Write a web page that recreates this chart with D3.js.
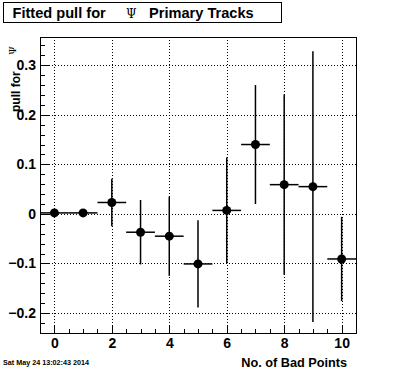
<!DOCTYPE html>
<html>
<head>
<meta charset="utf-8">
<script src="https://cdn.jsdelivr.net/npm/d3@7/dist/d3.min.js"></script>
<style>
  html, body { margin: 0; padding: 0; background: #fff; }
  svg { display: block; }
  text { font-family: "Liberation Sans", Arial, Helvetica, sans-serif; }
</style>
</head>
<body>
<script>
// ---- data ----
const nBadPoints = [0, 1, 2, 3, 4, 5, 6, 7, 8, 9, 10];
const pullValues = [0.002, 0.002, 0.023, -0.037, -0.045, -0.101, 0.007, 0.140, 0.059, 0.055, -0.091];
const pullErrors = [0.002, 0.002, 0.048, 0.065, 0.080, 0.088, 0.107, 0.120, 0.182, 0.273, 0.085];
const xHalfWidth = [0.5, 0.5, 0.5, 0.5, 0.5, 0.5, 0.5, 0.5, 0.5, 0.5, 0.5];
const xTickLabels = [0, 2, 4, 6, 8, 10];
const yTickLabels = [-0.2, -0.1, 0, 0.1, 0.2, 0.3];
const titleText = "Fitted pull for";
const titleSuffix = "Primary Tracks";
const psiSymbol = "\u03A8";
const xAxisTitle = "No. of Bad Points";
const yAxisTitle = "pull for";
const dateStamp = "Sat May 24 13:02:43 2014";

const W = 396, H = 372;
const L = 40, R = 356, T = 37, B = 333;

const svg = d3.select("body").append("svg").attr("width", W).attr("height", H);

const x = d3.scaleLinear().domain([-0.5, 10.5]).range([L, R]);
const y = d3.scaleLinear().domain([-0.2404, 0.357]).range([B, T]);

// grid (dotted)
const grid = svg.append("g").attr("stroke", "#000").attr("stroke-width", 1)
  .attr("stroke-dasharray", "1,2").attr("shape-rendering", "crispEdges");
grid.selectAll("line.gx").data(xTickLabels).join("line")
  .attr("x1", d => Math.round(x(d)) + 0.5).attr("x2", d => Math.round(x(d)) + 0.5)
  .attr("y1", T).attr("y2", B);
grid.selectAll("line.gy").data(yTickLabels).join("line")
  .attr("y1", d => Math.round(y(d)) + 0.5).attr("y2", d => Math.round(y(d)) + 0.5)
  .attr("x1", L).attr("x2", R);

// axes
const xMinor = d3.range(-0.5, 10.51, 0.5);
const yMinor = d3.range(-0.24, 0.3501, 0.02);

const xAxisMinor = d3.axisBottom(x).tickValues(xMinor).tickSize(-4).tickFormat("");
const xAxisMajor = d3.axisBottom(x).tickValues(xTickLabels).tickSize(-8).tickPadding(5).tickFormat(d3.format("d"));
const yAxisMinor = d3.axisLeft(y).tickValues(yMinor).tickSize(-5).tickFormat("");
const yAxisMajor = d3.axisLeft(y).tickValues(yTickLabels).tickSize(-10).tickPadding(4)
  .tickFormat(d => d === 0 ? "0" : d3.format(".1f")(d));

function styleAxis(g) {
  g.select(".domain").remove();
  g.selectAll("line").attr("stroke", "#000").attr("stroke-width", 1).attr("shape-rendering", "crispEdges");
  g.selectAll("text").attr("fill", "#000").attr("font-size", "14px").attr("font-weight", "bold");
}
svg.append("g").attr("transform", `translate(0,${B})`).call(xAxisMinor).call(styleAxis);
svg.append("g").attr("transform", `translate(0,${B})`).call(xAxisMajor).call(styleAxis);
svg.append("g").attr("transform", `translate(${L},0)`).call(yAxisMinor).call(styleAxis);
svg.append("g").attr("transform", `translate(${L},0)`).call(yAxisMajor).call(styleAxis);

// frame
svg.append("rect").attr("x", L + 0.5).attr("y", T + 0.5).attr("width", R - L).attr("height", B - T)
  .attr("fill", "none").attr("stroke", "#000").attr("stroke-width", 1).attr("shape-rendering", "crispEdges");

// data
const pts = nBadPoints.map((d, i) => ({ x: d, v: pullValues[i], e: pullErrors[i], hw: xHalfWidth[i] }));
const g = svg.append("g");
g.selectAll("line.eh").data(pts).join("line")
  .attr("x1", d => x(d.x - d.hw)).attr("x2", d => x(d.x + d.hw))
  .attr("y1", d => y(d.v)).attr("y2", d => y(d.v))
  .attr("stroke", "#000").attr("stroke-width", 1.5);
g.selectAll("line.ev").data(pts).join("line")
  .attr("x1", d => x(d.x)).attr("x2", d => x(d.x))
  .attr("y1", d => y(d.v - d.e)).attr("y2", d => y(d.v + d.e))
  .attr("stroke", "#000").attr("stroke-width", 1.5);
g.selectAll("circle").data(pts).join("circle")
  .attr("cx", d => x(d.x)).attr("cy", d => y(d.v)).attr("r", 4.5).attr("fill", "#000");

// title box
svg.append("rect").attr("x", 3.5).attr("y", 2.5).attr("width", 278).attr("height", 20)
  .attr("fill", "#fff").attr("stroke", "#000").attr("stroke-width", 1);
const tt = svg.append("text").attr("x", 12.5).attr("y", 18).attr("font-size", "14.6px").attr("font-weight", "bold");
tt.append("tspan").text(titleText);
tt.append("tspan").attr("x", 126).attr("font-weight", "normal").attr("font-family", "DejaVu Serif, serif").attr("font-size", "12px").text(psiSymbol);
tt.append("tspan").attr("x", 149).text(titleSuffix);

// y axis title
const yt = svg.append("text").attr("transform", "translate(20,112) rotate(-90)")
  .attr("font-size", "12px").attr("font-weight", "bold");
yt.append("tspan").text(yAxisTitle);
yt.append("tspan").attr("x", 57).attr("dy", -4).attr("font-weight", "normal").attr("font-family", "DejaVu Serif, serif").attr("font-size", "10px").text(psiSymbol);

// x axis title
svg.append("text").attr("x", 347).attr("y", 367).attr("text-anchor", "end")
  .attr("font-size", "12.7px").attr("font-weight", "bold").text(xAxisTitle);

// date stamp
svg.append("text").attr("x", 3).attr("y", 365).attr("font-size", "7.2px").attr("font-weight", "bold").text(dateStamp);
</script>
</body>
</html>
